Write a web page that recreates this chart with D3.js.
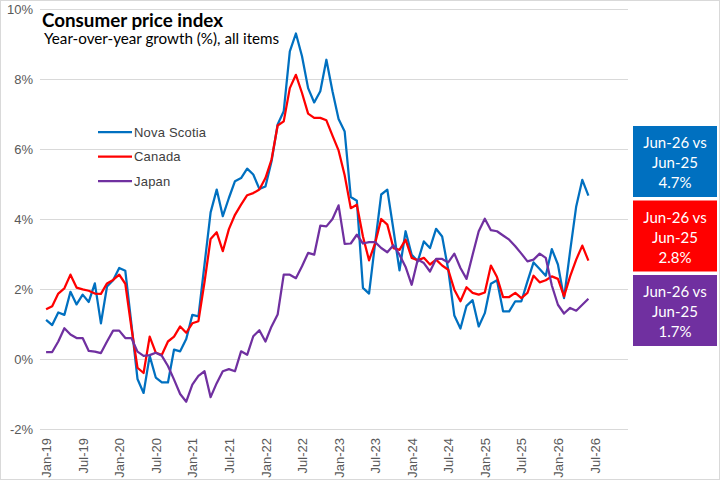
<!DOCTYPE html>
<html>
<head>
<meta charset="utf-8">
<script src="https://cdn.jsdelivr.net/npm/d3@7"></script>
<style>
  body { margin: 0; background: #fff; }
  svg { display: block; }
</style>
</head>
<body>
<div id="chart"></div>
<script>
// monthly series, Jan-19 .. Jun-26
const startMonth = "Jan-19";

const novaScotia = [
  1.12, 0.97, 1.33, 1.26, 1.92, 1.56, 1.84, 1.63, 2.16, 1.02, 2.07, 2.25,
  2.60, 2.52, 1.00, -0.57, -0.97, 0.09, -0.53, -0.67, -0.67, 0.27, 0.22, 0.57,
  1.26, 1.22, 2.70, 4.19, 4.84, 4.08, 4.60, 5.08, 5.17, 5.44, 5.27, 4.86,
  4.93, 5.65, 6.70, 7.08, 8.79, 9.30, 8.65, 7.74, 7.33, 7.65, 8.55, 7.65,
  6.86, 6.50, 4.63, 4.52, 2.03, 1.87, 3.31, 4.70, 4.84, 3.70, 2.53, 3.65,
  2.98, 2.79, 3.36, 3.17, 3.72, 3.50, 2.55, 1.24, 0.87, 1.52, 1.68, 0.93,
  1.31, 2.15, 2.25, 1.36, 1.36, 1.65, 1.65, 2.22, 2.76, 2.57, 2.38, 3.14,
  2.70, 1.74, 3.08, 4.36, 5.12, 4.67
];

const canada = [
  1.42, 1.51, 1.87, 2.02, 2.41, 2.04, 1.99, 1.95, 1.87, 1.86, 2.16, 2.26,
  2.41, 2.15, 0.90, -0.25, -0.40, 0.64, 0.18, 0.12, 0.50, 0.64, 0.93, 0.75,
  1.02, 1.08, 2.20, 3.43, 3.62, 3.08, 3.71, 4.12, 4.41, 4.68, 4.74, 4.84,
  5.17, 5.70, 6.67, 6.79, 7.74, 8.12, 7.60, 7.01, 6.89, 6.89, 6.82, 6.38,
  5.96, 5.25, 4.31, 4.41, 3.50, 2.82, 3.31, 4.00, 3.84, 3.17, 3.12, 3.41,
  2.89, 2.82, 2.89, 2.70, 2.84, 2.67, 2.55, 1.98, 1.65, 2.05, 1.89, 1.84,
  1.90, 2.67, 2.34, 1.77, 1.77, 1.89, 1.74, 1.89, 2.38, 2.19, 2.25, 2.36,
  2.29, 1.79, 2.36, 2.84, 3.24, 2.81
];

const japan = [
  0.20, 0.20, 0.50, 0.88, 0.70, 0.60, 0.60, 0.23, 0.21, 0.17, 0.50, 0.81,
  0.81, 0.60, 0.60, 0.21, 0.09, 0.11, 0.18, 0.09, -0.20, -0.59, -1.00, -1.22,
  -0.73, -0.48, -0.35, -1.09, -0.69, -0.35, -0.29, -0.35, 0.22, 0.12, 0.65, 0.82,
  0.50, 0.93, 1.27, 2.41, 2.41, 2.31, 2.65, 3.03, 2.98, 3.81, 3.79, 4.00,
  4.39, 3.29, 3.30, 3.55, 3.30, 3.34, 3.34, 3.17, 3.05, 3.25, 2.98, 2.63,
  2.12, 2.84, 2.74, 2.50, 2.86, 2.86, 2.76, 3.01, 2.60, 2.29, 2.98, 3.65,
  4.01, 3.68, 3.65, 3.53, 3.41, 3.22, 3.01, 2.79, 2.84, 3.01, 2.89, 2.10,
  1.55, 1.30, 1.46, 1.38, 1.55, 1.72
];

const xTickLabels = ["Jan-19", "Jul-19", "Jan-20", "Jul-20", "Jan-21", "Jul-21",
  "Jan-22", "Jul-22", "Jan-23", "Jul-23", "Jan-24", "Jul-24",
  "Jan-25", "Jul-25", "Jan-26", "Jul-26"];
const yTicks = [-2, 0, 2, 4, 6, 8, 10];

const seriesNames = ["Nova Scotia", "Canada", "Japan"];
const seriesColors = ["#0070C0", "#FF0000", "#7030A0"];
const boxLines = [["Jun-26 vs", "Jun-25", "4.7%"], ["Jun-26 vs", "Jun-25", "2.8%"], ["Jun-26 vs", "Jun-25", "1.7%"]];

const W = 721, H = 481;
const parseMonth = d3.timeParse("%b-%y");
const t0 = parseMonth(startMonth);
const monthIndex = s => d3.timeMonth.count(t0, parseMonth(s));

const svg = d3.select("#chart").append("svg")
  .attr("width", W)
  .attr("height", H);

// chart area border
svg.append("rect")
  .attr("x", 0.5).attr("y", 0.5)
  .attr("width", 719).attr("height", 479)
  .attr("fill", "#fff")
  .attr("stroke", "#d9d9d9");

const x = d3.scaleLinear().domain([-1, 95.5]).range([40, 628]);
const y = d3.scaleLinear().domain([-2, 10]).range([429, 9]);

// gridlines + y labels
const yAxis = d3.axisLeft(y)
  .tickValues(yTicks)
  .tickSize(-(628 - 40))
  .tickPadding(7)
  .tickFormat(d => d + "%");

svg.append("g")
  .attr("transform", "translate(40,0)")
  .call(yAxis)
  .call(g => g.select(".domain").remove())
  .call(g => g.selectAll(".tick line").attr("stroke", "#d9d9d9"))
  .call(g => g.selectAll(".tick text")
    .attr("fill", "#595959")
    .attr("font-family", "Liberation Sans, Arial, sans-serif")
    .attr("font-size", 13));

// x labels
const xAxis = d3.axisBottom(x)
  .tickValues(xTickLabels.map(monthIndex))
  .tickSize(0)
  .tickFormat((d, i) => xTickLabels[i]);

svg.append("g")
  .attr("transform", "translate(0,429)")
  .call(xAxis)
  .call(g => g.select(".domain").remove())
  .call(g => g.selectAll(".tick text")
    .attr("fill", "#595959")
    .attr("font-family", "Liberation Sans, Arial, sans-serif")
    .attr("font-size", 13)
    .attr("text-anchor", "end")
    .attr("transform", "rotate(-90)")
    .attr("x", -9)
    .attr("y", 0)
    .attr("dy", "0.35em"));

// lines
const line = d3.line()
  .x((d, i) => x(i))
  .y(d => y(d));

[novaScotia, canada, japan].forEach((s, k) => {
  svg.append("path")
    .datum(s)
    .attr("fill", "none")
    .attr("stroke", seriesColors[k])
    .attr("stroke-width", 2.25)
    .attr("stroke-linejoin", "round")
    .attr("d", line);
});

// title
svg.append("text")
  .attr("x", 42).attr("y", 27)
  .attr("font-family", "Lato, sans-serif")
  .attr("font-weight", "bold")
  .attr("font-size", 18.8)
  .attr("fill", "#000")
  .text("Consumer price index");

svg.append("text")
  .attr("x", 44).attr("y", 44)
  .attr("font-family", "Lato, sans-serif")
  .attr("font-size", 15.2)
  .attr("fill", "#000")
  .text("Year-over-year growth (%), all items");

// legend
const legend = svg.append("g");
seriesNames.forEach((name, k) => {
  const ly = 132 + k * 24.5;
  legend.append("line")
    .attr("x1", 98).attr("x2", 132)
    .attr("y1", ly).attr("y2", ly)
    .attr("stroke", seriesColors[k])
    .attr("stroke-width", 2.25);
  legend.append("text")
    .attr("x", 134).attr("y", ly)
    .attr("dy", "0.35em")
    .attr("font-family", "Liberation Sans, Arial, sans-serif")
    .attr("font-size", 13)
    .attr("letter-spacing", 0.2)
    .attr("fill", "#404040")
    .text(name);
});

// annotation boxes
boxLines.forEach((lines, k) => {
  const by = 126 + k * 74.5;
  svg.append("rect")
    .attr("x", 633).attr("y", by)
    .attr("width", 84).attr("height", 71)
    .attr("fill", seriesColors[k]);
  lines.forEach((t, j) => {
    svg.append("text")
      .attr("x", 675).attr("y", by + 22 + j * 20)
      .attr("text-anchor", "middle")
      .attr("font-family", "Lato, sans-serif")
      .attr("font-size", 15)
      .attr("fill", "#fff")
      .text(t);
  });
});
</script>
</body>
</html>
